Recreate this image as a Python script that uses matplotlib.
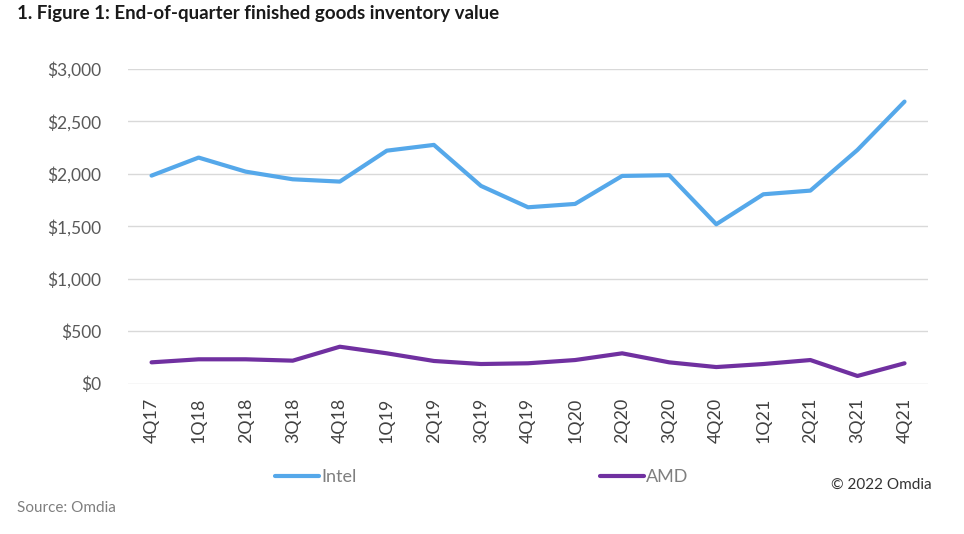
import numpy as np
import matplotlib.pyplot as plt

plt.rcParams['font.family'] = ['Lato', 'DejaVu Sans']

quarters = ['4Q17', '1Q18', '2Q18', '3Q18', '4Q18', '1Q19', '2Q19', '3Q19', '4Q19',
            '1Q20', '2Q20', '3Q20', '4Q20', '1Q21', '2Q21', '3Q21', '4Q21']
intel = [1983, 2155, 2021, 1948, 1926, 2221, 2276, 1885, 1681,
         1713, 1980, 1987, 1519, 1805, 1840, 2228, 2689]
amd = [202, 231, 231, 218, 351, 288, 215, 186, 193,
       224, 288, 202, 157, 186, 224, 72, 193]
yticks = [0, 500, 1000, 1500, 2000, 2500, 3000]

fig = plt.figure(figsize=(9.64, 5.34), dpi=100)
ax = fig.add_axes([0.1328, 0.2818, 0.8299, 0.589])

x = np.arange(len(quarters))
ax.plot(x, intel, color='#55A8EA', lw=3, solid_capstyle='round', label='Intel')
ax.plot(x, amd, color='#7030A0', lw=3, solid_capstyle='round', label='AMD')

ax.set_xlim(-0.5, len(quarters) - 0.5)
ax.set_ylim(0, 3000)
ax.set_yticks(yticks)
ax.set_yticklabels(['${:,}'.format(v) for v in yticks])
ax.set_xticks(x)
ax.set_xticklabels(quarters, rotation=90)
ax.yaxis.grid(True, color='#D9D9D9', lw=1)
ax.set_axisbelow(True)
for s in ax.spines.values():
    s.set_visible(False)
ax.tick_params(axis='y', length=0, pad=19, labelsize=12.5, labelcolor='#595959')
ax.tick_params(axis='x', length=0, pad=10, labelsize=12.8, labelcolor='#404040')

fig.legend(loc='center', bbox_to_anchor=(0.5, 1 - 477 / 534), ncol=2, frameon=False,
           fontsize=13, labelcolor='#7F7F7F', handlelength=2.4, handletextpad=0.15,
           columnspacing=13.5)

fig.text(17 / 964, 1 - 14 / 534, '1. Figure 1: End-of-quarter finished goods inventory value',
         fontsize=13.5, fontweight='bold', color='#1A1A1A', va='center', ha='left')
fig.text(932 / 964, 1 - 485 / 534, '\u00a9 2022 Omdia', fontsize=11, color='#333333',
         va='center', ha='right')
fig.text(17 / 964, 1 - 508 / 534, 'Source: Omdia', fontsize=11, color='#7F7F7F',
         va='center', ha='left')

fig.savefig('out.png', dpi=100)
